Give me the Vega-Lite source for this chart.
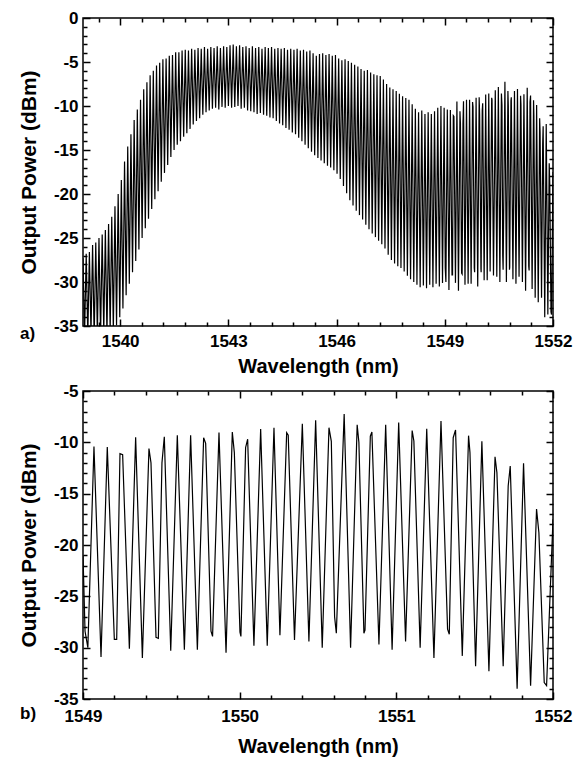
{
"$schema": "https://vega.github.io/schema/vega-lite/v6.json",
"padding": {"left": 17, "top": 8, "right": 5, "bottom": 5},
"background": "white",
"config": {
 "view": {"stroke": "#000", "strokeWidth": 1.5},
 "axis": {"grid": false, "domain": false, "labelFont": "Liberation Sans", "labelFontWeight": "bold", "labelFontSize": 17, "labelColor": "#000", "titleFont": "Liberation Sans", "titleFontWeight": "bold", "titleColor": "#000", "tickColor": "#000", "tickWidth": 1.5, "labelFlush": false},
 "title": {"font": "Liberation Sans", "fontWeight": "bold", "fontSize": 17, "color": "#000"}
},
"datasets": {"d": [
{"w":1538.970,"p":-27.3},{"w":1539.014,"p":-36.0},{"w":1539.059,"p":-26.8},{"w":1539.103,"p":-36.2},{"w":1539.147,"p":-26.6},{"w":1539.191,"p":-35.8},{"w":1539.236,"p":-25.8},{"w":1539.280,"p":-36.4},{"w":1539.324,"p":-25.5},{"w":1539.368,"p":-35.9},{"w":1539.413,"p":-25.0},{"w":1539.457,"p":-36.1},{"w":1539.502,"p":-24.6},{"w":1539.546,"p":-35.7},{"w":1539.590,"p":-24.1},{"w":1539.634,"p":-36.0},{"w":1539.679,"p":-23.4},{"w":1539.723,"p":-35.6},{"w":1539.767,"p":-22.6},{"w":1539.811,"p":-35.5},{"w":1539.856,"p":-21.4},{"w":1539.900,"p":-34.9},{"w":1539.945,"p":-20.0},{"w":1539.989,"p":-34.0},{"w":1540.033,"p":-18.4},{"w":1540.077,"p":-33.0},{"w":1540.122,"p":-16.3},{"w":1540.166,"p":-31.5},{"w":1540.210,"p":-14.6},{"w":1540.254,"p":-30.2},{"w":1540.299,"p":-13.2},{"w":1540.343,"p":-28.9},{"w":1540.388,"p":-11.6},{"w":1540.432,"p":-27.6},{"w":1540.476,"p":-10.4},{"w":1540.520,"p":-26.3},{"w":1540.565,"p":-9.3},{"w":1540.609,"p":-25.0},{"w":1540.653,"p":-8.1},{"w":1540.697,"p":-23.9},{"w":1540.742,"p":-7.3},{"w":1540.786,"p":-22.8},{"w":1540.831,"p":-6.5},{"w":1540.875,"p":-21.7},{"w":1540.919,"p":-6.0},{"w":1540.963,"p":-20.6},{"w":1541.008,"p":-5.4},{"w":1541.052,"p":-19.7},{"w":1541.096,"p":-5.1},{"w":1541.140,"p":-18.6},{"w":1541.185,"p":-4.7},{"w":1541.229,"p":-17.6},{"w":1541.274,"p":-4.6},{"w":1541.318,"p":-16.7},{"w":1541.362,"p":-4.3},{"w":1541.406,"p":-15.8},{"w":1541.451,"p":-4.2},{"w":1541.495,"p":-15.0},{"w":1541.539,"p":-3.9},{"w":1541.583,"p":-14.4},{"w":1541.628,"p":-3.9},{"w":1541.672,"p":-14.0},{"w":1541.717,"p":-3.7},{"w":1541.761,"p":-13.5},{"w":1541.805,"p":-3.6},{"w":1541.849,"p":-13.1},{"w":1541.894,"p":-3.7},{"w":1541.938,"p":-12.6},{"w":1541.982,"p":-3.5},{"w":1542.026,"p":-12.1},{"w":1542.071,"p":-3.6},{"w":1542.115,"p":-11.7},{"w":1542.160,"p":-3.4},{"w":1542.204,"p":-11.4},{"w":1542.248,"p":-3.5},{"w":1542.292,"p":-11.0},{"w":1542.337,"p":-3.3},{"w":1542.381,"p":-10.7},{"w":1542.425,"p":-3.5},{"w":1542.469,"p":-10.5},{"w":1542.514,"p":-3.3},{"w":1542.558,"p":-10.3},{"w":1542.603,"p":-3.4},{"w":1542.647,"p":-10.2},{"w":1542.691,"p":-3.2},{"w":1542.735,"p":-10.4},{"w":1542.780,"p":-3.4},{"w":1542.824,"p":-10.1},{"w":1542.868,"p":-3.2},{"w":1542.912,"p":-10.2},{"w":1542.957,"p":-3.3},{"w":1543.001,"p":-10.0},{"w":1543.046,"p":-3.1},{"w":1543.090,"p":-10.2},{"w":1543.134,"p":-3.0},{"w":1543.178,"p":-10.1},{"w":1543.223,"p":-3.2},{"w":1543.267,"p":-10.0},{"w":1543.311,"p":-3.1},{"w":1543.355,"p":-10.3},{"w":1543.400,"p":-3.3},{"w":1543.444,"p":-10.2},{"w":1543.489,"p":-3.2},{"w":1543.533,"p":-10.5},{"w":1543.577,"p":-3.4},{"w":1543.621,"p":-10.6},{"w":1543.666,"p":-3.2},{"w":1543.710,"p":-10.7},{"w":1543.754,"p":-3.4},{"w":1543.798,"p":-10.9},{"w":1543.843,"p":-3.3},{"w":1543.887,"p":-10.8},{"w":1543.932,"p":-3.5},{"w":1543.976,"p":-11.0},{"w":1544.020,"p":-3.3},{"w":1544.064,"p":-11.1},{"w":1544.109,"p":-3.4},{"w":1544.153,"p":-11.3},{"w":1544.197,"p":-3.3},{"w":1544.241,"p":-11.4},{"w":1544.286,"p":-3.5},{"w":1544.330,"p":-11.7},{"w":1544.375,"p":-3.4},{"w":1544.419,"p":-12.0},{"w":1544.463,"p":-3.5},{"w":1544.507,"p":-12.2},{"w":1544.552,"p":-3.4},{"w":1544.596,"p":-12.5},{"w":1544.640,"p":-3.6},{"w":1544.684,"p":-12.7},{"w":1544.729,"p":-3.5},{"w":1544.773,"p":-13.0},{"w":1544.818,"p":-3.6},{"w":1544.862,"p":-13.2},{"w":1544.906,"p":-3.5},{"w":1544.950,"p":-13.6},{"w":1544.995,"p":-3.7},{"w":1545.039,"p":-14.0},{"w":1545.083,"p":-3.6},{"w":1545.127,"p":-14.4},{"w":1545.172,"p":-3.8},{"w":1545.216,"p":-14.8},{"w":1545.261,"p":-3.7},{"w":1545.305,"p":-15.2},{"w":1545.349,"p":-4.0},{"w":1545.393,"p":-15.6},{"w":1545.438,"p":-4.3},{"w":1545.482,"p":-15.9},{"w":1545.526,"p":-4.1},{"w":1545.570,"p":-16.2},{"w":1545.615,"p":-4.0},{"w":1545.659,"p":-16.5},{"w":1545.704,"p":-4.2},{"w":1545.748,"p":-16.8},{"w":1545.792,"p":-4.1},{"w":1545.836,"p":-17.0},{"w":1545.881,"p":-4.3},{"w":1545.925,"p":-17.3},{"w":1545.969,"p":-4.2},{"w":1546.013,"p":-17.7},{"w":1546.058,"p":-4.6},{"w":1546.102,"p":-18.3},{"w":1546.147,"p":-4.8},{"w":1546.191,"p":-19.1},{"w":1546.235,"p":-4.7},{"w":1546.279,"p":-19.9},{"w":1546.324,"p":-4.9},{"w":1546.368,"p":-20.7},{"w":1546.412,"p":-5.1},{"w":1546.456,"p":-21.3},{"w":1546.501,"p":-5.3},{"w":1546.545,"p":-21.9},{"w":1546.590,"p":-5.5},{"w":1546.634,"p":-22.4},{"w":1546.678,"p":-5.8},{"w":1546.722,"p":-22.9},{"w":1546.767,"p":-6.0},{"w":1546.811,"p":-23.5},{"w":1546.855,"p":-5.9},{"w":1546.899,"p":-24.0},{"w":1546.944,"p":-6.2},{"w":1546.988,"p":-24.5},{"w":1547.033,"p":-6.4},{"w":1547.077,"p":-24.9},{"w":1547.121,"p":-6.5},{"w":1547.165,"p":-25.3},{"w":1547.210,"p":-6.6},{"w":1547.254,"p":-25.7},{"w":1547.298,"p":-7.0},{"w":1547.342,"p":-26.2},{"w":1547.387,"p":-7.5},{"w":1547.431,"p":-26.9},{"w":1547.476,"p":-7.9},{"w":1547.520,"p":-27.5},{"w":1547.564,"p":-8.1},{"w":1547.608,"p":-27.9},{"w":1547.653,"p":-8.3},{"w":1547.697,"p":-28.2},{"w":1547.741,"p":-8.6},{"w":1547.785,"p":-28.4},{"w":1547.830,"p":-8.9},{"w":1547.874,"p":-28.8},{"w":1547.919,"p":-9.1},{"w":1547.963,"p":-29.3},{"w":1548.007,"p":-9.3},{"w":1548.051,"p":-29.7},{"w":1548.096,"p":-9.8},{"w":1548.140,"p":-30.0},{"w":1548.184,"p":-10.3},{"w":1548.228,"p":-30.3},{"w":1548.273,"p":-10.7},{"w":1548.317,"p":-30.6},{"w":1548.362,"p":-10.5},{"w":1548.406,"p":-30.4},{"w":1548.450,"p":-10.9},{"w":1548.494,"p":-30.7},{"w":1548.539,"p":-10.7},{"w":1548.583,"p":-30.3},{"w":1548.627,"p":-10.9},{"w":1548.671,"p":-30.6},{"w":1548.716,"p":-10.6},{"w":1548.760,"p":-30.2},{"w":1548.805,"p":-10.2},{"w":1548.849,"p":-30.5},{"w":1548.893,"p":-10.0},{"w":1548.937,"p":-30.1},{"w":1548.982,"p":-10.2},
{"w":1549.000,"p":-21.0},{"w":1549.013,"p":-28.4},{"w":1549.031,"p":-30.0},{"w":1549.070,"p":-10.4},{"w":1549.115,"p":-30.9},{"w":1549.155,"p":-10.45},{"w":1549.200,"p":-29.2},{"w":1549.215,"p":-29.2},{"w":1549.236,"p":-11.1},{"w":1549.253,"p":-11.2},{"w":1549.296,"p":-30.1},{"w":1549.336,"p":-9.5},{"w":1549.379,"p":-31.0},{"w":1549.421,"p":-10.6},{"w":1549.434,"p":-12.0},{"w":1549.466,"p":-29.0},{"w":1549.481,"p":-29.1},{"w":1549.504,"p":-12.0},{"w":1549.519,"p":-9.45},{"w":1549.560,"p":-30.3},{"w":1549.602,"p":-9.3},{"w":1549.647,"p":-30.2},{"w":1549.687,"p":-9.3},{"w":1549.730,"p":-30.2},{"w":1549.770,"p":-9.55},{"w":1549.783,"p":-10.1},{"w":1549.817,"p":-28.4},{"w":1549.827,"p":-28.9},{"w":1549.868,"p":-9.05},{"w":1549.913,"p":-30.5},{"w":1549.953,"p":-9.0},{"w":1549.966,"p":-11.0},{"w":1550.002,"p":-28.5},{"w":1550.008,"p":-28.9},{"w":1550.038,"p":-10.5},{"w":1550.051,"p":-9.7},{"w":1550.091,"p":-29.8},{"w":1550.134,"p":-8.7},{"w":1550.176,"p":-29.8},{"w":1550.219,"p":-8.57},{"w":1550.257,"p":-28.8},{"w":1550.300,"p":-9.06},{"w":1550.310,"p":-9.3},{"w":1550.350,"p":-29.25},{"w":1550.400,"p":-8.2},{"w":1550.442,"p":-29.4},{"w":1550.485,"p":-7.85},{"w":1550.527,"p":-30.0},{"w":1550.570,"p":-8.57},{"w":1550.585,"p":-9.9},{"w":1550.606,"p":-27.0},{"w":1550.617,"p":-28.6},{"w":1550.667,"p":-7.25},{"w":1550.708,"p":-30.0},{"w":1550.750,"p":-8.3},{"w":1550.761,"p":-10.0},{"w":1550.793,"p":-28.6},{"w":1550.800,"p":-28.3},{"w":1550.834,"p":-9.4},{"w":1550.844,"p":-9.0},{"w":1550.889,"p":-29.7},{"w":1550.932,"p":-8.3},{"w":1550.973,"p":-30.2},{"w":1551.015,"p":-8.08},{"w":1551.059,"p":-29.4},{"w":1551.101,"p":-8.85},{"w":1551.112,"p":-9.87},{"w":1551.152,"p":-30.0},{"w":1551.194,"p":-8.67},{"w":1551.240,"p":-31.0},{"w":1551.285,"p":-7.92},{"w":1551.327,"p":-28.2},{"w":1551.338,"p":-28.7},{"w":1551.363,"p":-9.55},{"w":1551.378,"p":-8.8},{"w":1551.421,"p":-30.8},{"w":1551.461,"p":-9.35},{"w":1551.470,"p":-11.0},{"w":1551.506,"p":-31.8},{"w":1551.546,"p":-9.9},{"w":1551.591,"p":-32.3},{"w":1551.630,"p":-11.4},{"w":1551.642,"p":-12.95},{"w":1551.682,"p":-31.8},{"w":1551.714,"p":-14.25},{"w":1551.727,"p":-12.3},{"w":1551.771,"p":-34.0},{"w":1551.812,"p":-12.05},{"w":1551.857,"p":-33.7},{"w":1551.895,"p":-16.5},{"w":1551.910,"p":-18.8},{"w":1551.944,"p":-33.4},{"w":1551.959,"p":-33.7},{"w":1552.000,"p":-17.5}
]},
"spacing": 65,
"bounds": "flush",
"vconcat": [
{
 "width": 470, "height": 308,
 "data": {"name": "d"},
 "title": {"text": "a)", "orient": "bottom", "anchor": "start", "frame": "group", "offset": 0, "dx": -63, "dy": -37, "baseline": "alphabetic"},
 "layer": [
  {"mark": {"type": "line", "color": "#000", "strokeWidth": 1.2, "clip": true},
   "encoding": {
    "x": {"field": "w", "type": "quantitative", "scale": {"domain": [1538.97, 1552], "nice": false, "zero": false},
          "axis": {"orient": "bottom", "values": [1540, 1543, 1546, 1549, 1552], "ticks": false, "labelPadding": 7, "labelExpr": "'' + datum.value", "title": "Wavelength (nm)", "titleFontSize": 20, "titlePadding": 7}},
    "y": {"field": "p", "type": "quantitative", "scale": {"domain": [-35, 0], "nice": false, "zero": false},
          "axis": {"orient": "left", "values": [0, -5, -10, -15, -20, -25, -30, -35], "ticks": false, "labelPadding": 5, "labelExpr": "'' + datum.value", "title": "Output Power (dBm)", "titleFontSize": 21, "titlePadding": 14}}
   }},
  {"mark": {"type": "point", "opacity": 0},
   "encoding": {
    "x": {"field": "w", "type": "quantitative", "scale": {"domain": [1538.97, 1552], "nice": false, "zero": false},
          "axis": {"orient": "bottom", "values": [1540, 1543, 1546, 1549, 1552], "labels": false, "tickSize": -7, "title": null}},
    "y": {"field": "p", "type": "quantitative", "scale": {"domain": [-35, 0], "nice": false, "zero": false},
          "axis": {"orient": "left", "values": [0, -5, -10, -15, -20, -25, -30, -35], "labels": false, "tickSize": -7, "title": null}}
   }},
  {"mark": {"type": "point", "opacity": 0},
   "encoding": {
    "x": {"field": "w", "type": "quantitative", "scale": {"domain": [1538.97, 1552], "nice": false, "zero": false},
          "axis": {"orient": "bottom", "values": [1539.4, 1540.6, 1541.2, 1541.8, 1542.4, 1543.6, 1544.2, 1544.8, 1545.4, 1546.6, 1547.2, 1547.8, 1548.4, 1549.6, 1550.2, 1550.8, 1551.4], "labels": false, "tickSize": -4, "title": null}},
    "y": {"field": "p", "type": "quantitative", "scale": {"domain": [-35, 0], "nice": false, "zero": false},
          "axis": {"orient": "left", "values": [-1, -2, -3, -4, -6, -7, -8, -9, -11, -12, -13, -14, -16, -17, -18, -19, -21, -22, -23, -24, -26, -27, -28, -29, -31, -32, -33, -34], "labels": false, "tickSize": -4, "title": null}}
   }},
  {"mark": {"type": "point", "opacity": 0},
   "encoding": {
    "x": {"field": "w", "type": "quantitative", "scale": {"domain": [1538.97, 1552], "nice": false, "zero": false},
          "axis": {"orient": "top", "values": [1540, 1543, 1546, 1549, 1552], "labels": false, "tickSize": -7, "title": null}},
    "y": {"field": "p", "type": "quantitative", "scale": {"domain": [-35, 0], "nice": false, "zero": false},
          "axis": {"orient": "right", "values": [0, -5, -10, -15, -20, -25, -30, -35], "labels": false, "tickSize": -7, "title": null}}
   }},
  {"mark": {"type": "point", "opacity": 0},
   "encoding": {
    "x": {"field": "w", "type": "quantitative", "scale": {"domain": [1538.97, 1552], "nice": false, "zero": false},
          "axis": {"orient": "top", "values": [1539.4, 1540.6, 1541.2, 1541.8, 1542.4, 1543.6, 1544.2, 1544.8, 1545.4, 1546.6, 1547.2, 1547.8, 1548.4, 1549.6, 1550.2, 1550.8, 1551.4], "labels": false, "tickSize": -4, "title": null}},
    "y": {"field": "p", "type": "quantitative", "scale": {"domain": [-35, 0], "nice": false, "zero": false},
          "axis": {"orient": "right", "values": [-1, -2, -3, -4, -6, -7, -8, -9, -11, -12, -13, -14, -16, -17, -18, -19, -21, -22, -23, -24, -26, -27, -28, -29, -31, -32, -33, -34], "labels": false, "tickSize": -4, "title": null}}
   }}
 ],
 "resolve": {"axis": {"x": "independent", "y": "independent"}}
},
{
 "width": 470, "height": 308,
 "data": {"name": "d"},
 "transform": [{"filter": "datum.w >= 1549"}],
 "title": {"text": "b)", "orient": "bottom", "anchor": "start", "frame": "group", "offset": 0, "dx": -63, "dy": -37, "baseline": "alphabetic"},
 "layer": [
  {"mark": {"type": "line", "color": "#000", "strokeWidth": 1.2, "clip": true},
   "encoding": {
    "x": {"field": "w", "type": "quantitative", "scale": {"domain": [1549, 1552], "nice": false, "zero": false},
          "axis": {"orient": "bottom", "values": [1549, 1550, 1551, 1552], "ticks": false, "labelPadding": 9, "labelExpr": "'' + datum.value", "title": "Wavelength (nm)", "titleFontSize": 20, "titlePadding": 12}},
    "y": {"field": "p", "type": "quantitative", "scale": {"domain": [-35, -5], "nice": false, "zero": false},
          "axis": {"orient": "left", "values": [-5, -10, -15, -20, -25, -30, -35], "ticks": false, "labelPadding": 5, "labelExpr": "'' + datum.value", "title": "Output Power (dBm)", "titleFontSize": 21, "titlePadding": 14}}
   }},
  {"mark": {"type": "point", "opacity": 0},
   "encoding": {
    "x": {"field": "w", "type": "quantitative", "scale": {"domain": [1549, 1552], "nice": false, "zero": false},
          "axis": {"orient": "bottom", "values": [1549, 1550, 1551, 1552], "labels": false, "tickSize": -7, "title": null}},
    "y": {"field": "p", "type": "quantitative", "scale": {"domain": [-35, -5], "nice": false, "zero": false},
          "axis": {"orient": "left", "values": [-5, -10, -15, -20, -25, -30, -35], "labels": false, "tickSize": -7, "title": null}}
   }},
  {"mark": {"type": "point", "opacity": 0},
   "encoding": {
    "x": {"field": "w", "type": "quantitative", "scale": {"domain": [1549, 1552], "nice": false, "zero": false},
          "axis": {"orient": "bottom", "values": [1549.2, 1549.4, 1549.6, 1549.8, 1550.2, 1550.4, 1550.6, 1550.8, 1551.2, 1551.4, 1551.6, 1551.8], "labels": false, "tickSize": -4, "title": null}},
    "y": {"field": "p", "type": "quantitative", "scale": {"domain": [-35, -5], "nice": false, "zero": false},
          "axis": {"orient": "left", "values": [-6, -7, -8, -9, -11, -12, -13, -14, -16, -17, -18, -19, -21, -22, -23, -24, -26, -27, -28, -29, -31, -32, -33, -34], "labels": false, "tickSize": -4, "title": null}}
   }},
  {"mark": {"type": "point", "opacity": 0},
   "encoding": {
    "x": {"field": "w", "type": "quantitative", "scale": {"domain": [1549, 1552], "nice": false, "zero": false},
          "axis": {"orient": "top", "values": [1549, 1550, 1551, 1552], "labels": false, "tickSize": -7, "title": null}},
    "y": {"field": "p", "type": "quantitative", "scale": {"domain": [-35, -5], "nice": false, "zero": false},
          "axis": {"orient": "right", "values": [-5, -10, -15, -20, -25, -30, -35], "labels": false, "tickSize": -7, "title": null}}
   }},
  {"mark": {"type": "point", "opacity": 0},
   "encoding": {
    "x": {"field": "w", "type": "quantitative", "scale": {"domain": [1549, 1552], "nice": false, "zero": false},
          "axis": {"orient": "top", "values": [1549.2, 1549.4, 1549.6, 1549.8, 1550.2, 1550.4, 1550.6, 1550.8, 1551.2, 1551.4, 1551.6, 1551.8], "labels": false, "tickSize": -4, "title": null}},
    "y": {"field": "p", "type": "quantitative", "scale": {"domain": [-35, -5], "nice": false, "zero": false},
          "axis": {"orient": "right", "values": [-6, -7, -8, -9, -11, -12, -13, -14, -16, -17, -18, -19, -21, -22, -23, -24, -26, -27, -28, -29, -31, -32, -33, -34], "labels": false, "tickSize": -4, "title": null}}
   }}
 ],
 "resolve": {"axis": {"x": "independent", "y": "independent"}}
}
]
}
